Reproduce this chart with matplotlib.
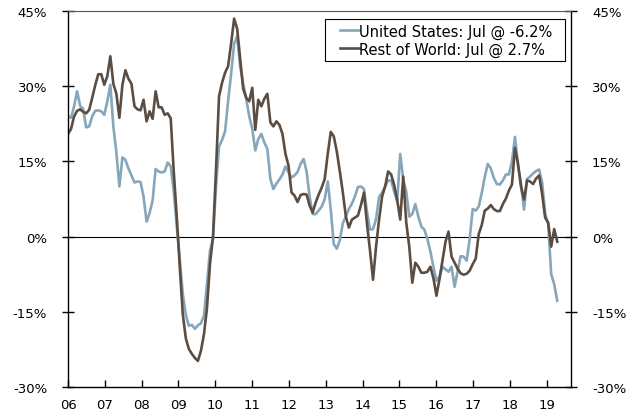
import numpy as np
import matplotlib
matplotlib.use("Agg")
import matplotlib.pyplot as plt
from matplotlib.lines import Line2D
from matplotlib.legend_handler import HandlerLine2D

# Year-over-year growth, monthly, Jan 2006 .. Jul 2019
us = [24.0, 23.7, 26.0, 29.0, 26.1, 25.5, 21.8, 22.0, 24.0, 25.1,
      25.2, 25.0, 24.3, 27.0, 30.3, 22.0, 16.8, 10.0, 15.8, 15.3,
      13.6, 12.2, 10.8, 11.0, 10.9, 8.0, 3.0, 4.7, 7.2, 13.5,
      13.0, 12.8, 13.0, 14.8, 14.0, 9.0, 2.0, -4.5, -11.5, -15.6,
      -17.8, -17.6, -18.4, -17.7, -17.3, -15.8, -9.5, -2.8, -0.5, 10.0,
      18.0, 19.3, 21.0, 27.0, 32.5, 38.5, 40.0, 34.0, 30.5, 27.5,
      24.0, 21.5, 17.2, 19.5, 20.5, 18.8, 17.5, 11.5, 9.5, 10.6,
      11.4, 12.4, 14.0, 12.8, 11.8, 12.2, 12.9, 14.5, 15.5, 13.0,
      8.0, 4.5, 4.5, 5.2, 6.0, 7.5, 11.0, 5.4, -1.5, -2.4,
      -0.7, 2.7, 4.0, 5.5, 6.6, 8.0, 9.9, 10.0, 9.5, 5.0,
      1.4, 1.5, 3.5, 7.9, 8.8, 10.0, 11.2, 11.2, 9.0, 7.0,
      16.5, 11.4, 9.0, 4.0, 4.5, 6.5, 4.0, 2.0, 1.4, -0.5,
      -3.0, -6.0, -8.8, -8.0, -6.0, -6.5, -7.0, -6.0, -10.0, -7.0,
      -3.9, -4.0, -4.8, -0.5, 5.5, 5.2, 6.0, 8.7, 11.9, 14.5,
      13.6, 11.7, 10.5, 10.4, 11.2, 12.4, 12.4, 15.0, 19.9, 14.2,
      10.5, 5.4, 11.5, 12.0, 12.6, 13.1, 13.4, 10.8, 4.5, 2.5,
      -7.5, -9.5, -12.8]

row = [20.5, 21.5, 24.0, 25.1, 25.4, 24.9, 24.6, 25.3, 27.7, 30.2,
       32.4, 32.4, 30.3, 32.0, 36.0, 30.5, 28.5, 23.7, 30.3, 33.2,
       31.5, 30.5, 26.0, 25.4, 25.2, 27.3, 23.0, 25.0, 23.5, 29.0,
       25.8, 25.8, 24.3, 24.6, 23.6, 13.0, 4.0, -6.0, -15.5, -20.3,
       -22.4, -23.4, -24.2, -24.8, -22.8, -19.5, -14.3, -5.5, 0.0, 13.4,
       28.0, 30.7, 32.7, 34.0, 38.5, 43.5, 41.5, 35.5, 29.5, 27.7,
       27.0, 29.7, 21.3, 27.3, 26.0, 27.5, 28.5, 22.8, 22.0, 23.0,
       22.3, 20.5, 16.5, 14.2, 8.8, 8.2, 6.9, 8.3, 8.5, 8.4,
       6.2, 4.8, 6.8, 8.4, 9.8, 11.5, 16.5, 20.9, 20.0, 17.0,
       13.0, 8.8, 4.0, 1.8, 3.4, 3.8, 4.2, 6.3, 8.8, 2.5,
       -2.8, -8.6, -2.0, 3.4, 8.0, 10.0, 13.0, 12.4, 10.3, 7.3,
       3.4, 12.0, 2.8, -2.0, -9.2, -5.2, -6.0, -7.2, -7.2, -7.0,
       -6.0, -8.3, -11.8, -8.5, -4.8, -1.0, 1.0, -4.0, -5.2, -6.4,
       -7.3, -7.6, -7.4, -6.8, -5.5, -4.4, 0.5, 2.3, 5.2, 5.6,
       6.3, 5.5, 5.1, 5.1, 6.5, 7.6, 9.2, 10.4, 17.7, 14.6,
       10.0, 7.4, 11.2, 11.0, 10.5, 11.6, 12.2, 8.5, 3.8, 2.8,
       -2.0, 1.5, -1.0]

year_labels = ['06', '07', '08', '09', '10', '11', '12', '13',
               '14', '15', '16', '17', '18', '19']
y_ticks = [-30, -15, 0, 15, 30, 45]

us_label = 'United States: Jul @ -6.2%'
row_label = 'Rest of World: Jul @ 2.7%'

plt.rcParams['font.family'] = ['DejaVu Sans']
plt.rcParams['font.size'] = 9.5

fig = plt.figure(figsize=(6.36, 4.14), dpi=100)
ax = fig.add_axes([0.107, 0.0628, 0.791, 0.908])

months = np.arange(len(us))
ax.plot(months, us, color='#87a6ba', lw=1.9, label=us_label)
ax.plot(months, row, color='#5b4d42', lw=1.9, label=row_label)
ax.axhline(0, color='black', lw=0.8, zorder=1)

# year ticks (about 12.19 months apart)
tick_pos = [12.19 * k for k in range(len(year_labels))]
ax.set_xticks(tick_pos)
ax.set_xticklabels(year_labels)
ax.set_xlim(0, 166.6)
ax.tick_params(axis='x', direction='in', length=5, width=1, pad=8, colors='black')

ax.set_ylim(-30, 45)
ax.set_yticks(y_ticks)
ax.set_yticklabels([f'{v}%' for v in y_ticks])
ax.yaxis.set_ticks_position('both')
ax.tick_params(axis='y', direction='inout', length=8, width=1, pad=11,
               labelleft=True, labelright=True)

for side in ['left', 'right', 'bottom']:
    ax.spines[side].set_color('black')
    ax.spines[side].set_linewidth(1.0)
ax.spines['top'].set_color('#555555')
ax.spines['top'].set_linewidth(0.8)

leg = ax.legend(loc='upper left', bbox_to_anchor=(0.511, 0.979, 0.477, 0.0),
                mode='expand', borderaxespad=0,
                fancybox=False, edgecolor='black', framealpha=1,
                handlelength=2.0, handletextpad=0.0, borderpad=0.3,
                labelspacing=0.2, fontsize=10.5,
                handler_map={Line2D: HandlerLine2D(xpad=0.7)})
leg.get_frame().set_linewidth(0.8)

fig.savefig('out.png', dpi=100)
